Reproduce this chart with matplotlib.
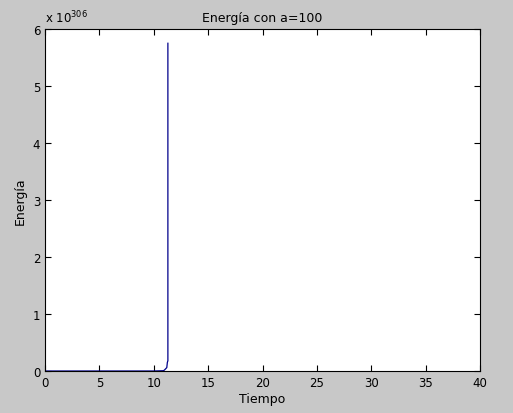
import matplotlib
matplotlib.use("Agg")
import matplotlib.pyplot as plt

# Energía en unidades de 1e306
tiempo = [0, 5, 10, 10.9, 11.0, 11.1, 11.2, 11.25, 11.3, 11.3]
energia = [0, 0, 0, 0.005, 0.02, 0.04, 0.06, 0.15, 0.18, 5.75]

fig = plt.figure(figsize=(5.13, 4.14), dpi=100, facecolor="#c8c8c8")
ax = fig.add_axes([45/513, 42/414, 435/513, 342/414])
ax.plot(tiempo, energia, color="#00008b", lw=0.9)
ax.set_xlim(0, 40)
ax.set_ylim(0, 6)
ax.set_xticks(range(0, 41, 5))
ax.set_yticks(range(0, 7))
ax.tick_params(direction="in", labelsize=8.5, top=True, right=True, length=4)
ax.set_xlabel("Tiempo", fontsize=9, labelpad=2)
ax.set_ylabel("Energía", fontsize=9)
ax.set_title("Energía con a=100", fontsize=9)
ax.text(0, 1.01, r"x 10$^{306}$", transform=ax.transAxes, fontsize=8.5, va="bottom")
fig.savefig("out.png", dpi=100, facecolor=fig.get_facecolor())
